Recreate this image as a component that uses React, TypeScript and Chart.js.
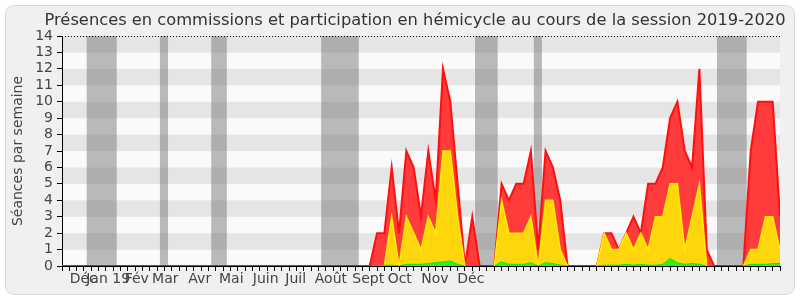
import React, { useEffect, useRef } from 'react';
import { Chart, registerables } from 'chart.js';

Chart.register(...registerables);

const TITLE = 'Présences en commissions et participation en hémicycle au cours de la session 2019-2020';
const Y_TITLE = 'Séances par semaine';

// week index 0..98
const weeks: number[] = Array.from({ length: 99 }, (_, i) => i);

// total weekly presences (red)
const totalSeances: number[] = [
  0, 0, 0, 0, 0, 0, 0, 0, 0, 0,
  0, 0, 0, 0, 0, 0, 0, 0, 0, 0,
  0, 0, 0, 0, 0, 0, 0, 0, 0, 0,
  0, 0, 0, 0, 0, 0, 0, 0, 0, 0,
  0, 0, 0, 2, 2, 6, 2, 7, 6, 3,
  7, 4, 12, 10, 5, 0, 3, 0, 0, 0,
  5, 4, 5, 5, 7, 1, 7, 6, 4, 0,
  0, 0, 0, 0, 2, 2, 1, 2, 3, 2,
  5, 5, 6, 9, 10, 7, 6, 12, 1, 0,
  0, 0, 0, 0, 7, 10, 10, 10, 3,
];

// commission presences (yellow)
const commissions: number[] = [
  0, 0, 0, 0, 0, 0, 0, 0, 0, 0,
  0, 0, 0, 0, 0, 0, 0, 0, 0, 0,
  0, 0, 0, 0, 0, 0, 0, 0, 0, 0,
  0, 0, 0, 0, 0, 0, 0, 0, 0, 0,
  0, 0, 0, 0, 0, 3, 0, 3, 2, 1,
  3, 2, 7, 7, 3, 0, 0, 0, 0, 0,
  4, 2, 2, 2, 3, 0, 4, 4, 1, 0,
  0, 0, 0, 0, 2, 1, 1, 2, 1, 2,
  1, 3, 3, 5, 5, 1, 3, 5, 0, 0,
  0, 0, 0, 0, 1, 1, 3, 3, 1,
];

// hemicycle participation (green)
const hemicycle: number[] = [
  0, 0, 0, 0, 0, 0, 0, 0, 0, 0,
  0, 0, 0, 0, 0, 0, 0, 0, 0, 0,
  0, 0, 0, 0, 0, 0, 0, 0, 0, 0,
  0, 0, 0, 0, 0, 0, 0, 0, 0, 0,
  0, 0, 0, 0, 0.05, 0.05, 0, 0.1, 0.1, 0.1,
  0.15, 0.2, 0.25, 0.3, 0.1, 0, 0, 0, 0, 0,
  0.25, 0.1, 0.1, 0.1, 0.2, 0, 0.2, 0.15, 0.05, 0,
  0, 0, 0, 0, 0.05, 0.05, 0.05, 0.1, 0.05, 0.1,
  0.05, 0.05, 0.1, 0.45, 0.2, 0.1, 0.15, 0.1, 0, 0,
  0, 0, 0, 0, 0.1, 0.1, 0.1, 0.15, 0.15,
];

const monthLabels: string[] = ['Déc', 'Jan 19', 'Fév', 'Mar', 'Avr', 'Mai', 'Juin', 'Juil', 'Août', 'Sept', 'Oct', 'Nov', 'Déc'];
const monthPositions: number[] = [2.9, 6.3, 10.2, 14.1, 18.8, 23.1, 27.8, 31.9, 36.7, 41.8, 46.1, 50.9, 55.8];

const vacationStart: number[] = [3.37, 13.37, 20.37, 35.37, 56.37, 64.4, 89.4];
const vacationEnd: number[] = [7.47, 14.47, 22.5, 40.5, 59.47, 65.5, 93.45];

const FONT = 'DejaVu Sans';

const zeroSeg = (color: string) => (ctx: any) =>
  ctx.p0.parsed.y === 0 && ctx.p1.parsed.y === 0 ? 'rgba(0,0,0,0)' : color;

const backgroundPlugin = {
  id: 'bgPlugin',
  beforeDraw(chart: any) {
    const { ctx, chartArea, scales } = chart;
    ctx.save();
    ctx.fillStyle = '#ffffff';
    ctx.fillRect(0, 0, chart.width, chart.height);
    ctx.beginPath();
    (ctx as any).roundRect(5.5, 5.5, 789, 289, 8);
    ctx.fillStyle = '#f0f0f0';
    ctx.fill();
    ctx.strokeStyle = '#dadada';
    ctx.lineWidth = 1;
    ctx.stroke();
    const y = scales.y;
    const x = scales.x;
    for (let k = 0; k < 14; k++) {
      const top = y.getPixelForValue(k + 1);
      const bot = y.getPixelForValue(k);
      ctx.fillStyle = k % 2 === 1 ? '#e5e5e5' : '#fafafa';
      ctx.fillRect(chartArea.left, top, chartArea.right - chartArea.left, bot - top);
    }
    ctx.fillStyle = 'rgba(120,120,120,0.5)';
    for (let i = 0; i < vacationStart.length; i++) {
      const a = x.getPixelForValue(vacationStart[i]);
      const b = x.getPixelForValue(vacationEnd[i]);
      ctx.fillRect(a, chartArea.top, b - a, chartArea.bottom - chartArea.top);
    }
    ctx.restore();
  },
  afterDraw(chart: any) {
    const { ctx, chartArea } = chart;
    ctx.save();
    ctx.strokeStyle = '#000';
    ctx.lineWidth = 1;
    ctx.setLineDash([1, 2]);
    ctx.beginPath();
    ctx.moveTo(chartArea.left, chartArea.top + 0.5);
    ctx.lineTo(chartArea.right, chartArea.top + 0.5);
    ctx.stroke();
    ctx.setLineDash([]);
    ctx.fillStyle = '#333';
    ctx.font = `16.3px "${FONT}"`;
    ctx.textAlign = 'center';
    ctx.textBaseline = 'middle';
    ctx.fillText(TITLE, 415, 21);
    ctx.restore();
  },
};

export default function App() {
  const ref = useRef<HTMLCanvasElement | null>(null);
  useEffect(() => {
    document.body.style.margin = '0';
    if (!ref.current) return;
    const nWeeks = weeks.length;
    const chart = new Chart(ref.current, {
      type: 'line',
      data: {
        labels: weeks,
        datasets: [
          {
            label: 'hemicycle',
            data: weeks.map((w, i) => ({ x: w, y: hemicycle[i] })),
            borderColor: '#00ee00',
            backgroundColor: '#33ee22',
            borderWidth: 1,
            fill: 'origin',
            pointRadius: 0,
            tension: 0,
            segment: { borderColor: zeroSeg('#00ee00') },
          },
          {
            label: 'commissions',
            data: weeks.map((w, i) => ({ x: w, y: commissions[i] })),
            borderColor: '#ffee00',
            backgroundColor: '#ffd50c',
            borderWidth: 1.5,
            fill: 'origin',
            pointRadius: 0,
            tension: 0,
            segment: { borderColor: zeroSeg('#ffee00') },
          },
          {
            label: 'total',
            data: weeks.map((w, i) => ({ x: w, y: totalSeances[i] })),
            borderColor: '#ff1010',
            backgroundColor: '#ff3b3b',
            borderWidth: 2,
            fill: 'origin',
            pointRadius: 0,
            tension: 0,
          },
        ],
      },
      options: {
        animation: false,
        responsive: false,
        maintainAspectRatio: false,
        layout: { padding: { top: 36, right: 20, bottom: 0, left: 0 } },
        plugins: {
          legend: { display: false },
          tooltip: { enabled: false },
          title: { display: false },
        },
        scales: {
          x: {
            type: 'linear',
            min: 0,
            max: nWeeks - 1,
            afterBuildTicks: (s: any) => {
              s.ticks = [
                ...weeks.map((v) => ({ value: v })),
                ...monthPositions.map((v) => ({ value: v })),
              ];
            },
            afterFit: (s: any) => {
              s.height = 34;
            },
            grid: {
              drawOnChartArea: false,
              drawTicks: true,
              tickLength: 5,
              color: '#000',
              tickColor: (c: any) => (c.index < nWeeks ? '#000' : 'rgba(0,0,0,0)'),
            },
            border: { color: '#000', width: 1 },
            ticks: {
              autoSkip: false,
              maxRotation: 0,
              minRotation: 0,
              padding: 0,
              color: '#444',
              font: { family: FONT, size: 14 },
              callback: (_v: any, idx: number) => (idx >= nWeeks ? monthLabels[idx - nWeeks] : ''),
            },
          },
          y: {
            min: 0,
            max: 14,
            afterFit: (s: any) => {
              s.width = 62;
            },
            grid: { drawOnChartArea: false, tickLength: 5, color: '#000' },
            border: { color: '#000', width: 1 },
            ticks: {
              stepSize: 1,
              autoSkip: false,
              padding: 4,
              color: '#444',
              font: { family: FONT, size: 14 },
            },
            title: {
              display: true,
              text: Y_TITLE,
              color: '#444',
              font: { family: FONT, size: 14 },
              padding: { top: 10, bottom: 0 },
            },
          },
        },
      } as any,
      plugins: [backgroundPlugin],
    });
    return () => chart.destroy();
  }, []);
  return (
    <div style={{ width: 800, height: 300 }}>
      <canvas ref={ref} width={800} height={300} style={{ width: 800, height: 300, display: 'block' }} />
    </div>
  );
}
